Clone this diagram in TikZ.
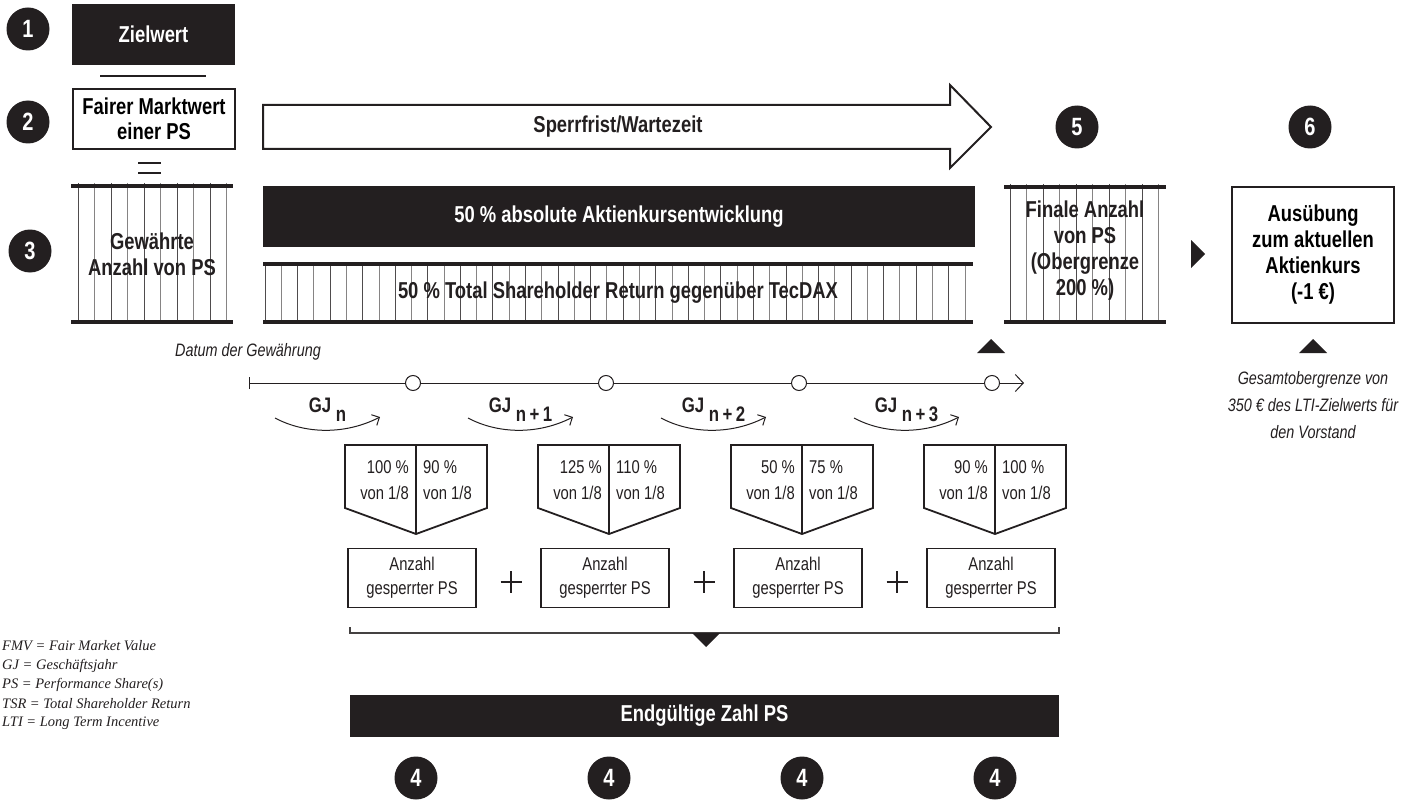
\documentclass[tikz,border=0pt]{standalone}
\usepackage{fontspec}
\setmainfont{Liberation Sans}[FakeStretch=0.80]
\newfontfamily\legendfont{Liberation Serif}
\usetikzlibrary{arrows.meta,calc}
\definecolor{ink}{HTML}{231F20}
\begin{document}
\begin{tikzpicture}[x=1pt,y=-1pt,
  num/.style={circle, fill=ink, text=white, minimum size=43pt, inner sep=0pt, font=\bfseries\fontsize{25}{25}\selectfont},
  blackbar/.style={fill=ink, text=white, inner sep=0pt, font=\bfseries\fontsize{23}{25}\selectfont, align=center},
  framebox/.style={draw=ink, line width=2pt, inner sep=0pt, font=\bfseries\fontsize{23}{25}\selectfont, align=center},
  boldlbl/.style={inner sep=0pt, text=ink, font=\bfseries\fontsize{23}{26}\selectfont, align=center},
  hatch/.style={line width=0.9pt, draw=ink!80},
  hatchgray/.style={line width=0.9pt, draw=ink!55},
  rule/.style={line width=3.5pt, draw=ink},
  smalltxt/.style={inner sep=0pt, text=ink, font=\fontsize{18.5}{26}\selectfont},
  anz/.style={draw=ink, line width=1.8pt, inner sep=0pt, minimum width=128pt, minimum height=59pt, text=ink, font=\fontsize{18.5}{24}\selectfont, align=center},
  italtxt/.style={inner sep=0pt, text=ink, font=\itshape\fontsize{18}{27}\selectfont, align=center},
  gjlbl/.style={inner sep=0pt, text=ink, font=\bfseries\fontsize{21}{21}\selectfont, anchor=base},
  legend/.style={inner sep=0pt, anchor=west, text=ink, font=\legendfont\itshape\fontsize{14.5}{16}\selectfont},
  tl/.style={line width=1pt, draw=ink},
  tri/.style={fill=ink, draw=none}
]
\useasboundingbox (0,0) rectangle (1423,805);

% --- numbered circles
\node[num] (n1) at (28,29) {1};
\node[num] (n2) at (28,122) {2};
\node[num] (n3) at (30,251) {3};
\node[num] (n5) at (1077,127) {5};
\node[num] (n6) at (1310,127) {6};
\foreach \k in {0,1,2,3}{
  \node[num] (n4\k) at (416+193*\k,778) {4};
}

% --- left column
\node[blackbar, minimum width=163pt, minimum height=61pt] (ziel) at (153.5,34.5) {Zielwert};
\draw[line width=2pt, draw=ink] (100,76) -- (206,76);
\node[framebox, minimum width=162pt, minimum height=60pt] (fair) at (154,119) {Fairer Marktwert\\einer PS};
\draw[line width=2pt, draw=ink] (138,163) -- (161,163) (138,173) -- (161,173);

% hatched box: Gewaehrte
\foreach \k in {0,...,9}{
  \pgfmathsetmacro{\xx}{78+16.5*\k}
  \ifodd\k \draw[hatchgray] (\xx,183) -- (\xx,322); \else \draw[hatch] (\xx,183) -- (\xx,322); \fi
}
\draw[rule] (71,186) -- (233,186);
\draw[rule] (71,322) -- (233,322);
\node[boldlbl] (gew) at (152,254.5) {Gew\"ahrte\\Anzahl von PS};

% --- Sperrfrist arrow
\node[boldlbl] (sperr) at (618,127) {Sperrfrist/Wartezeit};
\draw[line width=2pt, draw=ink, line join=miter] (263,105) -- (950,105) -- (950,85) -- (991,127) -- (950,168) -- (950,149) -- (263,149) -- cycle;

% --- black bar
\node[blackbar, minimum width=712pt, minimum height=61pt] (abs) at (619,216.5) {50~\% absolute Aktienkursentwicklung};

% --- TSR hatched bar
\foreach \k in {0,...,43}{
  \pgfmathsetmacro{\xx}{265+16.28*\k}
  \ifodd\k \draw[hatchgray] (\xx,262) -- (\xx,322); \else \draw[hatch] (\xx,262) -- (\xx,322); \fi
}
\draw[rule] (263,264) -- (973,264);
\draw[rule] (263,322) -- (973,322);
\node[boldlbl] (tsr) at (618,293) {50~\% Total Shareholder Return gegen\"uber TecDAX};

% --- Finale hatched box
\foreach \k in {0,...,9}{
  \pgfmathsetmacro{\xx}{1010+16.5*\k}
  \ifodd\k \draw[hatchgray] (\xx,184) -- (\xx,322); \else \draw[hatch] (\xx,184) -- (\xx,322); \fi
}
\draw[rule] (1004,187) -- (1166,187);
\draw[rule] (1004,322) -- (1166,322);
\node[boldlbl] (fin) at (1085,251) {Finale Anzahl\\von PS\\(Obergrenze\\200~\%)};

% --- arrow triangle and Ausuebung
\fill[tri] (1191,240) -- (1205,254) -- (1191,268) -- cycle;
\node[framebox, minimum width=162pt, minimum height=136pt, font=\bfseries\fontsize{23}{26}\selectfont] (aus) at (1313,255) {Aus\"ubung\\zum aktuellen\\Aktienkurs\\(-1~\texteuro)};
\fill[tri] (1299,353) -- (1313,339) -- (1327,353) -- cycle;
\node[italtxt] (cap) at (1313,405) {Gesamtobergrenze von\\350~\texteuro{} des LTI-Zielwerts f\"ur\\den Vorstand};

% --- timeline
\node[italtxt] (datum) at (248,352) {Datum der Gew\"ahrung};
\fill[tri] (977,353) -- (991,339) -- (1005,353) -- cycle;
\coordinate (t0) at (249,383);
\coordinate (tend) at (1024,383);
\foreach \k in {0,1,2,3}{
  \node[circle, draw=ink, line width=1pt, fill=white, minimum size=15pt, inner sep=0pt] (c\k) at (413+193*\k,383) {};
}
\draw[tl, {Bar[width=12pt,line width=1pt]}-] (t0) -- (c0.west);
\draw[tl] (c0.east) -- (c1.west);
\draw[tl] (c1.east) -- (c2.west);
\draw[tl] (c2.east) -- (c3.west);
\draw[tl, -{Straight Barb[length=8pt,width=17pt,line width=1pt]}] (c3.east) -- (tend);

% --- GJ curved arrows
\foreach \k/\sub in {0/n,1/n\,+\,1,2/n\,+\,2,3/n\,+\,3}{
  \pgfmathsetmacro{\xs}{275+193*\k}
  \pgfmathsetmacro{\xe}{380+193*\k}
  \pgfmathsetmacro{\xa}{305+193*\k}
  \pgfmathsetmacro{\xb}{345+193*\k}
  \pgfmathsetmacro{\xm}{327.5+193*\k}
  \coordinate (gs\k) at (\xs,418);
  \coordinate (ge\k) at (\xe,417);
  \draw[tl, -{Straight Barb[length=6pt,width=12pt,line width=1pt]}] (gs\k) .. controls (\xa,434) and (\xb,435) .. (ge\k);
  \node[gjlbl] (gj\k) at (\xm,412) {GJ\ \raisebox{-9pt}{\sub}};
}

% --- pentagons, boxes, plus signs
\foreach \k/\la/\ra in {0/100/90,1/125/110,2/50/75,3/90/100}{
  \pgfmathsetmacro{\cx}{416+193*\k}
  \pgfmathsetmacro{\xl}{\cx-71}
  \pgfmathsetmacro{\xr}{\cx+71}
  \draw[draw=ink, line width=1.8pt, line join=miter] (\xl,445) -- (\xr,445) -- (\xr,508) -- (\cx,534) -- (\xl,508) -- cycle;
  \draw[draw=ink, line width=1.8pt] (\cx,445) -- (\cx,534);
  \node[smalltxt, anchor=east, align=right] (pl\k) at (\cx-7,480) {\la~\%\\von 1/8};
  \node[smalltxt, anchor=west, align=left] (pr\k) at (\cx+7,480) {\ra~\%\\von 1/8};
  \node[anz] (box\k) at (\cx-4,578) {Anzahl\\gesperrter PS};
}
\foreach \k in {0,1,2}{
  \pgfmathsetmacro{\px}{416+193*\k+95}
  \draw[draw=ink, line width=1.6pt] (\px-10.5,582) -- (\px+10.5,582) (\px,571) -- (\px,593);
}

% --- bracket
\coordinate (bl) at (350,627);
\coordinate (br) at (1059,627);
\draw[line width=1.5pt, draw=ink!85] (bl) -- (350,633) -- (1059,633) -- (br);
\fill[tri] (692,633) -- (720,633) -- (706,647) -- cycle;

% --- final bar
\node[blackbar, minimum width=709pt, minimum height=42pt] (end) at (704.5,716) {Endg\"ultige Zahl PS};

% --- legend
\node[legend] (lg1) at (2,646) {FMV = Fair Market Value};
\node[legend] (lg2) at (2,665.5) {GJ = Gesch\"aftsjahr};
\node[legend] (lg3) at (2,685) {PS = Performance Share(s)};
\node[legend] (lg4) at (2,704) {TSR = Total Shareholder Return};
\node[legend] (lg5) at (2,723) {LTI = Long Term Incentive};
\end{tikzpicture}
\end{document}
